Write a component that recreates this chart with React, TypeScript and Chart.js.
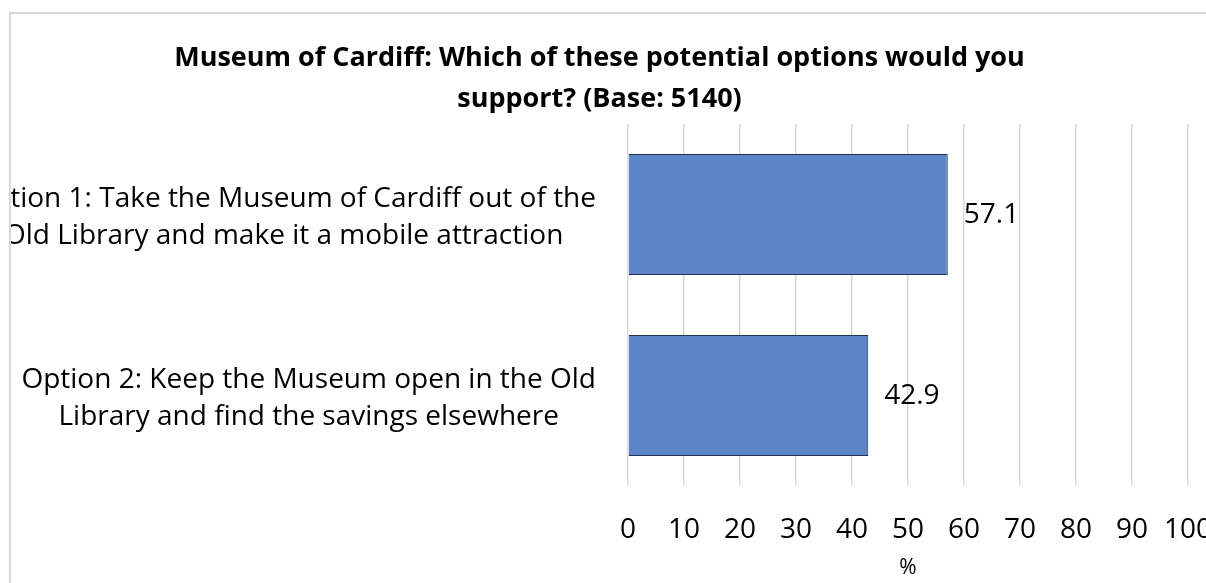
import React, { useEffect, useRef } from "react";
import { Chart, registerables } from "chart.js";

Chart.register(...registerables);

const titleLines = [
  "Museum of Cardiff: Which of these potential options would you",
  "support? (Base: 5140)",
];
const categories: string[][] = [
  ["Option 1: Take the Museum of Cardiff out of the", "Old Library and make it a mobile attraction"],
  ["Option 2: Keep the Museum open in the Old", "Library and find the savings elsewhere"],
];
const values = [57.1, 42.9];
const xTickMin = 0;
const xTickMax = 100;
const xTickStep = 10;
const xAxisTitle = "%";

const FONT = "'Open Sans', Lato, sans-serif";

const labelPlugin = {
  id: "excelLabels",
  afterDatasetsDraw(chart: any) {
    const { ctx, chartArea } = chart;
    const yScale = chart.scales.y;
    const meta = chart.getDatasetMeta(0);
    ctx.save();
    ctx.fillStyle = "#000000";
    ctx.font = `28px ${FONT}`;
    ctx.textBaseline = "middle";
    // category labels: block right-aligned, lines centred inside the block
    categories.forEach((lines, i) => {
      const cy = yScale.getPixelForValue(i) + 3;
      const maxW = Math.max(...lines.map((l) => ctx.measureText(l).width));
      const right = chartArea.left - 32;
      const cx = right - maxW / 2;
      ctx.textAlign = "center";
      lines.forEach((l, j) => {
        ctx.fillText(l, cx, cy + (j - (lines.length - 1) / 2) * 37);
      });
    });
    // data labels
    ctx.textAlign = "left";
    meta.data.forEach((bar: any, i: number) => {
      ctx.fillText(values[i].toFixed(1), bar.x + 16, bar.y + 1);
    });
    ctx.restore();
  },
};

export default function App() {
  const ref = useRef<HTMLCanvasElement | null>(null);
  useEffect(() => {
    document.body.style.overflow = "hidden";
    if (!ref.current) return;
    const chart = new Chart(ref.current, {
      type: "bar",
      data: {
        labels: categories.map((c) => c.join(" ")),
        datasets: [
          {
            data: values,
            backgroundColor: "#5b84c9",
            borderColor: "#26334f",
            borderWidth: 1,
            categoryPercentage: 1,
            barPercentage: 0.668,
          },
        ],
      },
      options: {
        indexAxis: "y",
        animation: false,
        responsive: true,
        maintainAspectRatio: false,
        layout: { padding: { left: 0, right: 21, top: 0, bottom: 0 } },
        plugins: {
          legend: { display: false },
          tooltip: { enabled: false },
          title: {
            display: true,
            text: titleLines,
            color: "#000000",
            font: { family: FONT, size: 27, weight: "bold", lineHeight: 41 / 27 },
            padding: { top: 23.5, bottom: 4.5 },
          },
        },
        scales: {
          x: {
            min: xTickMin,
            max: xTickMax,
            ticks: {
              stepSize: xTickStep,
              color: "#000000",
              font: { family: FONT, size: 28 },
              padding: 27,
            },
            grid: { color: "#d9d9d9", lineWidth: 1.5, drawTicks: false },
            border: { display: false },
            title: {
              display: true,
              text: xAxisTitle,
              color: "#000000",
              font: { family: FONT, size: 21 },
              padding: { top: 8, bottom: 2 },
            },
            afterFit(scale: any) {
              scale.height = 97;
              scale.paddingLeft = 0;
              scale.paddingRight = 0;
            },
          },
          y: {
            display: true,
            ticks: { display: false },
            grid: { display: false },
            border: { display: false },
            afterFit(scale: any) {
              scale.width = 617;
            },
          },
        },
      },
      plugins: [labelPlugin],
    });
    return () => chart.destroy();
  }, []);

  return (
    <div
      style={{
        position: "fixed",
        left: 9,
        top: 12,
        right: 0,
        bottom: 0,
        borderLeft: "2px solid #d9d9d9",
        borderTop: "2px solid #d9d9d9",
        overflow: "hidden",
        background: "#ffffff",
      }}
    >
      <div style={{ position: "relative", width: 1198, height: 569 }}>
        <canvas ref={ref} />
      </div>
    </div>
  );
}
